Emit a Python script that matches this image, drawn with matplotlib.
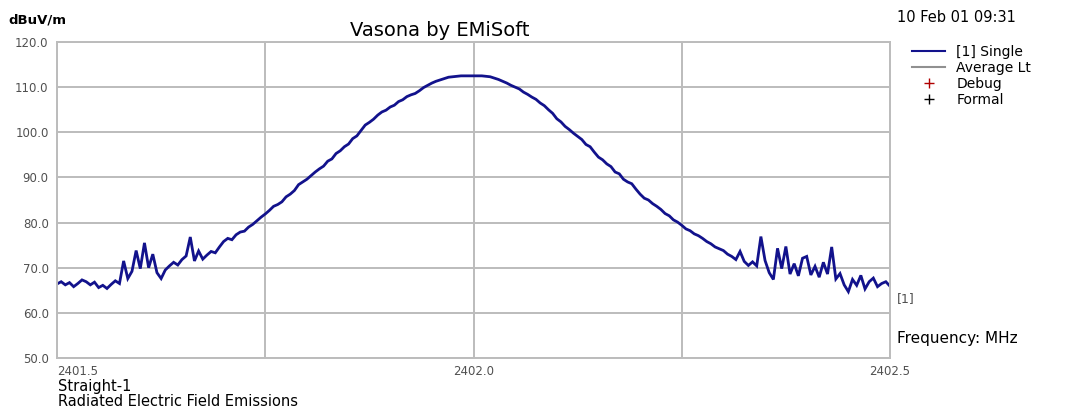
import numpy as np
import matplotlib
matplotlib.use("Agg")
import matplotlib.pyplot as plt
from matplotlib.lines import Line2D

# frequency span (MHz) and sample spacing
f_start = 2401.5
f_stop = 2402.5
n_points = 201

# trace [1] Single, dBuV/m
level = [
    66.4, 66.9, 66.2, 66.7, 65.8, 66.5, 67.3, 66.9, 66.2, 66.8,
    65.6, 66.1, 65.4, 66.3, 67.1, 66.5, 71.5, 67.6, 69.2, 73.8,
    69.8, 75.5, 70.0, 73.0, 68.9, 67.6, 69.5, 70.4, 71.2, 70.6,
    71.8, 72.6, 76.8, 71.5, 73.7, 71.9, 72.8, 73.6, 73.3, 74.6,
    75.8, 76.5, 76.2, 77.3, 77.9, 78.1, 79.0, 79.6, 80.4, 81.2,
    81.9, 82.7, 83.6, 84.0, 84.6, 85.7, 86.3, 87.1, 88.4, 89.0,
    89.6, 90.4, 91.2, 91.9, 92.5, 93.6, 94.1, 95.3, 95.9, 96.8,
    97.4, 98.6, 99.2, 100.4, 101.6, 102.2, 102.9, 103.8, 104.5, 104.9,
    105.6, 106.0, 106.8, 107.2, 107.9, 108.3, 108.6, 109.2, 109.9, 110.4,
    110.9, 111.3, 111.6, 111.9, 112.2, 112.3, 112.4, 112.5, 112.5, 112.5,
    112.5, 112.5, 112.5, 112.4, 112.3, 112.0, 111.7, 111.3, 110.9, 110.4,
    110.0, 109.6, 108.9, 108.4, 107.8, 107.3, 106.5, 105.9, 105.0, 104.2,
    103.0, 102.3, 101.3, 100.6, 99.8, 99.1, 98.4, 97.3, 96.8, 95.6,
    94.5, 93.9, 93.0, 92.4, 91.2, 90.8, 89.6, 89.0, 88.6, 87.4,
    86.3, 85.4, 85.0, 84.2, 83.6, 82.9, 82.0, 81.5, 80.6, 80.1,
    79.4, 78.6, 78.2, 77.5, 77.1, 76.5, 75.8, 75.3, 74.6, 74.2,
    73.8, 73.0, 72.5, 71.8, 73.6, 71.4, 70.5, 71.3, 70.4, 76.9,
    71.6, 68.9, 67.4, 74.3, 69.8, 74.7, 68.6, 70.9, 68.2, 72.1,
    72.5, 68.4, 70.3, 67.9, 71.2, 68.6, 74.6, 67.5, 68.7, 66.2,
    64.7, 67.4, 66.1, 68.3, 65.3, 66.9, 67.7, 65.8, 66.5, 66.9,
    65.9,
]
freq = np.linspace(f_start, f_stop, n_points)

y_ticks = [50, 60, 70, 80, 90, 100, 110, 120]
x_grid = [2401.5, 2401.75, 2402.0, 2402.25, 2402.5]
x_labels = {2401.5: "2401.5", 2402.0: "2402.0", 2402.5: "2402.5"}

legend_labels = ["[1] Single", "Average Lt", "Debug", "Formal"]

trace_col = "#12128c"
grid_col = "#bcbcbc"
tick_col = "#505050"

fig = plt.figure(figsize=(10.81, 4.13), dpi=100)
ax = fig.add_axes([57 / 1081, 1 - 358 / 413, 833 / 1081, 316 / 413])

ax.plot(freq, level, color=trace_col, lw=2.0, solid_joinstyle="miter")

ax.set_xlim(f_start, f_stop)
ax.set_ylim(50, 120)
ax.set_yticks(y_ticks)
ax.set_yticklabels([f"{v:.1f}" for v in y_ticks])
ax.set_xticks(x_grid)
ax.set_xticklabels([x_labels.get(v, "") for v in x_grid])
ax.get_xticklabels()[0].set_ha("left")
ax.grid(True, color=grid_col, lw=1.4)
ax.tick_params(length=0, labelsize=8.5, labelcolor=tick_col)
ax.tick_params(axis="x", pad=5)
ax.tick_params(axis="y", pad=6)
for s in ax.spines.values():
    s.set_color(grid_col)
    s.set_linewidth(1.4)
ax.set_axisbelow(True)

# trace tag at the end of the curve
ax.annotate("[1]", xy=(freq[-1], level[-1]), xytext=(5, -9),
            textcoords="offset points", fontsize=9, color=tick_col,
            va="center", ha="left", annotation_clip=False)

fig.text(440 / 1081, 1 - 31 / 413, "Vasona by EMiSoft", fontsize=14,
         ha="center", va="center")
fig.text(8 / 1081, 1 - 20 / 413, "dBuV/m", fontsize=9.5, fontweight="bold",
         ha="left", va="center")
fig.text(897 / 1081, 1 - 18 / 413, "10 Feb 01 09:31", fontsize=10.5,
         ha="left", va="center")
fig.text(897 / 1081, 1 - 338 / 413, "Frequency: MHz", fontsize=11,
         ha="left", va="center")
fig.text(58 / 1081, 1 - 386 / 413, "Straight-1", fontsize=10.5,
         ha="left", va="center")
fig.text(58 / 1081, 1 - 402 / 413, "Radiated Electric Field Emissions",
         fontsize=10.5, ha="left", va="center")

handles = [
    Line2D([], [], color=trace_col, lw=1.5),
    Line2D([], [], color="#909090", lw=1.5),
    Line2D([], [], color="#b00000", ls="", marker="+", markersize=7),
    Line2D([], [], color="black", ls="", marker="+", markersize=7),
]
fig.legend(handles, legend_labels, loc="upper left",
           bbox_to_anchor=(912 / 1081, 1 - 45 / 413), frameon=False,
           fontsize=10, labelspacing=0.15, handlelength=2.4,
           handletextpad=0.8, borderpad=0, borderaxespad=0)

fig.savefig("out.png", dpi=100, facecolor="white")
